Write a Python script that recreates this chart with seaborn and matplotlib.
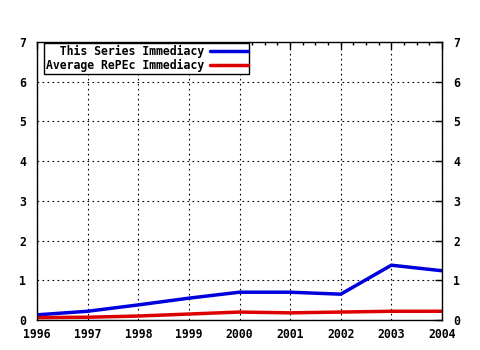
import matplotlib
matplotlib.use("Agg")
import matplotlib.pyplot as plt
import seaborn as sns
import pandas as pd
from matplotlib.ticker import MultipleLocator

years = [1996, 1997, 1998, 1999, 2000, 2001, 2002, 2003, 2004]
series_immediacy = [0.13, 0.22, 0.38, 0.55, 0.70, 0.70, 0.65, 1.38, 1.24]
repec_immediacy = [0.06, 0.07, 0.10, 0.15, 0.20, 0.18, 0.20, 0.22, 0.22]
labels = ["  This Series Immediacy", "Average RePEc Immediacy"]

df = pd.concat([
    pd.DataFrame({"year": years, "value": series_immediacy, "series": labels[0]}),
    pd.DataFrame({"year": years, "value": repec_immediacy, "series": labels[1]}),
])

sns.set_style("white")
plt.rcParams['font.family'] = ['DejaVu Sans Mono']
plt.rcParams['font.weight'] = 'bold'
plt.rcParams['text.color'] = 'black'

fs = 8.3
fig = plt.figure(figsize=(4.8, 3.5), dpi=100)
ax = fig.add_axes([37/480, 1 - 320/350, 405/480, 278/350])

sns.lineplot(data=df, x="year", y="value", hue="series",
             palette={labels[0]: "#0000dd", labels[1]: "#dd0000"},
             linewidth=2.5, ax=ax)

ax.set_xlim(1996, 2004)
ax.set_ylim(0, 7)
ax.set_xticks(years)
ax.set_xticklabels([str(y) for y in years], fontsize=fs, fontweight='bold')
ax.set_yticks(range(0, 8))
ax.set_yticklabels([str(v) for v in range(0, 8)], fontsize=fs, fontweight='bold')
ax.xaxis.set_minor_locator(MultipleLocator(0.25))
ax.set_xlabel("")
ax.set_ylabel("")
ax.grid(True, which='major', linestyle=(0, (1.5, 3)), color='black', linewidth=0.8)
ax.tick_params(axis='both', which='both', direction='in', top=True, right=True,
               labelright=True, colors='black')
ax.tick_params(which='major', length=5, width=1)
ax.tick_params(which='minor', length=2.5, width=1)
ax.tick_params(axis='x', pad=6)
ax.tick_params(axis='y', pad=8)
for s in ax.spines.values():
    s.set_color('black')
    s.set_linewidth(1)

leg = ax.legend(loc='upper left', bbox_to_anchor=(7/405, 1 - 1/278), markerfirst=False,
                frameon=True, fancybox=False, edgecolor='black', framealpha=1,
                prop={'family': 'DejaVu Sans Mono', 'weight': 'bold', 'size': fs},
                labelcolor='black',
                borderpad=0.15, labelspacing=0.1, handlelength=3.3, handletextpad=0.5,
                borderaxespad=0)
leg.get_frame().set_linewidth(1)

fig.savefig("out.png", dpi=100)
